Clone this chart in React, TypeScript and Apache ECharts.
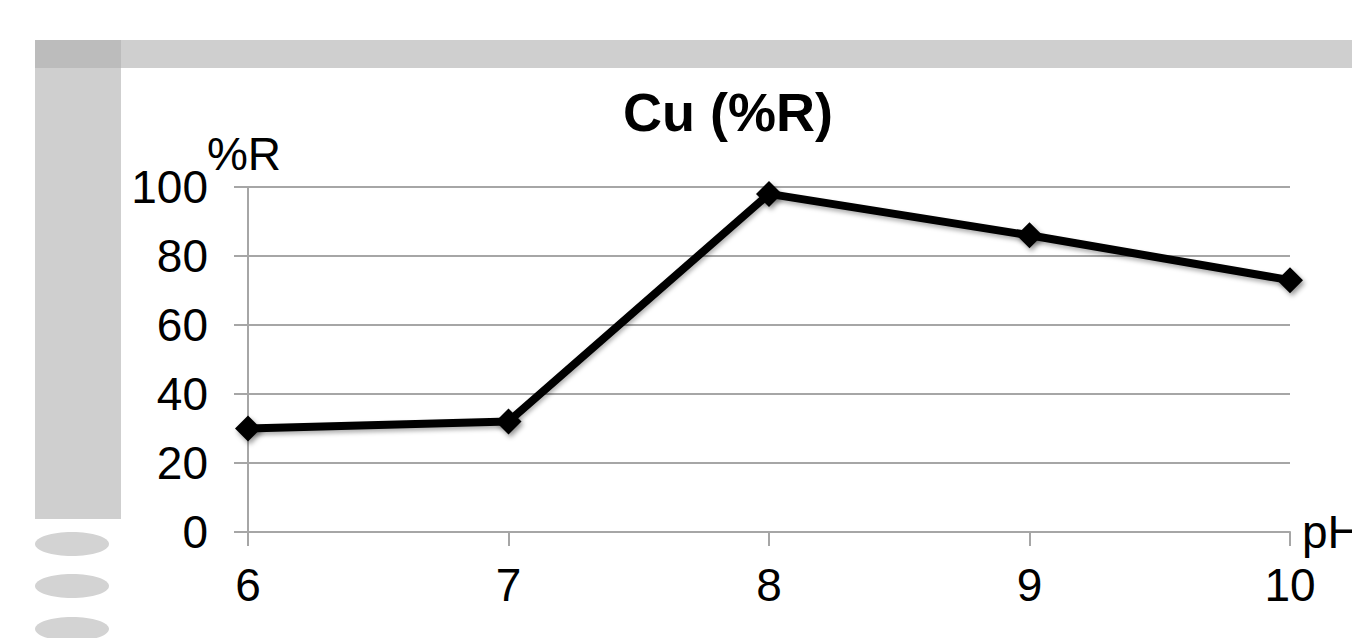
import React, { useEffect, useRef } from "react";
import * as echarts from "echarts";

const categories = ["6", "7", "8", "9", "10"];
const recovery = [30, 32, 98, 86, 73];
const titleText = "Cu (%R)";
const yName = "%R";
const xName = "pH";

const FONT = "'Liberation Sans', Arial, sans-serif";

export default function App() {
  const ref = useRef<HTMLDivElement>(null);
  useEffect(() => {
    document.body.style.margin = "0";
    const chart = echarts.init(ref.current!, null, { renderer: "svg" });
    chart.setOption({
      animation: false,
      backgroundColor: "#ffffff",
      textStyle: { fontFamily: FONT },
      graphic: [
        { type: "rect", shape: { x: 35, y: 40, width: 1317, height: 28 }, style: { fill: "#cfcfcf" }, z: -10 },
        { type: "rect", shape: { x: 35, y: 40, width: 86, height: 28 }, style: { fill: "#bcbcbc" }, z: -9 },
        { type: "rect", shape: { x: 35, y: 68, width: 86, height: 451 }, style: { fill: "#cfcfcf" }, z: -10 },
        { type: "ellipse", shape: { cx: 72, cy: 544, rx: 37, ry: 12 }, style: { fill: "#d3d3d3" }, z: -10 },
        { type: "ellipse", shape: { cx: 72, cy: 586, rx: 37, ry: 12 }, style: { fill: "#d3d3d3" }, z: -10 },
        { type: "ellipse", shape: { cx: 72, cy: 629, rx: 37, ry: 12 }, style: { fill: "#d3d3d3" }, z: -10 },
        {
          type: "text",
          x: 728,
          y: 112,
          style: {
            text: titleText,
            fontFamily: FONT,
            fontWeight: "bold",
            fontSize: 54,
            fill: "#000",
            align: "center",
            verticalAlign: "middle",
          },
        },
      ],
      grid: { left: 248, right: 62, top: 187, bottom: 106, containLabel: false, outerBoundsMode: "none" },
      xAxis: {
        type: "category",
        data: categories,
        boundaryGap: false,
        name: xName,
        nameLocation: "end",
        nameGap: 12,
        nameMoveOverlap: false,
        nameTextStyle: { fontSize: 46, color: "#000", fontFamily: FONT, verticalAlign: "middle", padding: [8, 0, 0, 0] },
        axisLine: { show: true, lineStyle: { color: "#a6a6a6", width: 2 } },
        axisTick: { show: true, length: 14, inside: false, lineStyle: { color: "#a6a6a6", width: 2 } },
        axisLabel: { color: "#000", fontSize: 46, fontFamily: FONT, margin: 30 },
        splitLine: { show: false },
      },
      yAxis: {
        type: "value",
        min: 0,
        max: 100,
        interval: 20,
        name: yName,
        nameLocation: "end",
        nameGap: 10,
        nameMoveOverlap: false,
        nameTextStyle: { fontSize: 46, color: "#000", fontFamily: FONT, padding: [0, 8, 0, 0] },
        axisLine: { show: true, lineStyle: { color: "#a6a6a6", width: 2 } },
        axisTick: { show: true, length: 14, lineStyle: { color: "#a6a6a6", width: 2 } },
        axisLabel: { color: "#000", fontSize: 46, fontFamily: FONT, margin: 40 },
        splitLine: { show: true, lineStyle: { color: "#a6a6a6", width: 2 } },
      },
      series: [
        {
          type: "line",
          data: recovery,
          symbol: "diamond",
          symbolSize: 26,
          lineStyle: {
            color: "#000",
            width: 8,
            shadowBlur: 4,
            shadowColor: "rgba(0,0,0,0.3)",
            shadowOffsetX: 1,
            shadowOffsetY: 3,
          },
          itemStyle: {
            color: "#000",
            borderWidth: 0,
            shadowBlur: 5,
            shadowColor: "rgba(0,0,0,0.4)",
            shadowOffsetX: 2,
            shadowOffsetY: 3,
          },
          clip: false,
        },
      ],
    });
    return () => chart.dispose();
  }, []);
  return <div ref={ref} style={{ position: "absolute", left: 0, top: 0, width: 1352, height: 638 }} />;
}
